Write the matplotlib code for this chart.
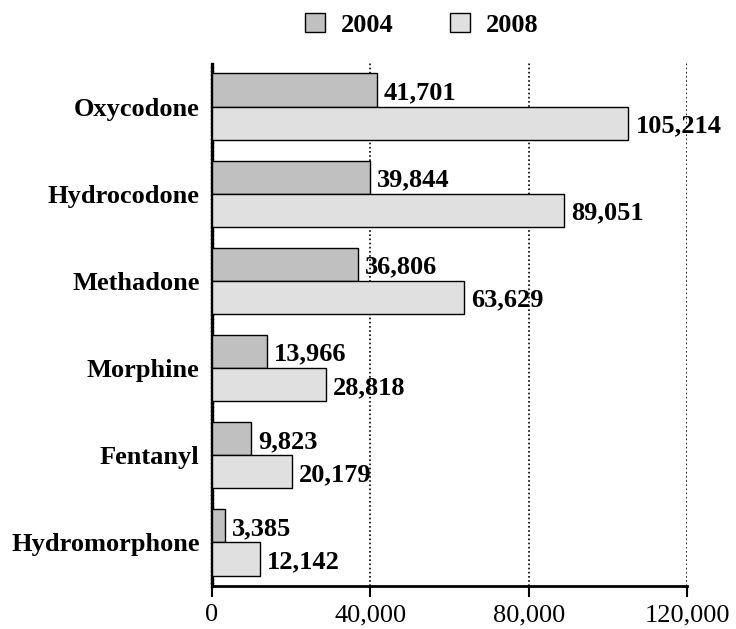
"""Horizontal grouped bar chart: opioid counts, 2004 vs 2008."""

import numpy as np
import matplotlib
matplotlib.use("Agg")
import matplotlib.pyplot as plt

DRUGS = ["Oxycodone", "Hydrocodone", "Methadone", "Morphine", "Fentanyl", "Hydromorphone"]
VALUES_2004 = [41701, 39844, 36806, 13966, 9823, 3385]
VALUES_2008 = [105214, 89051, 63629, 28818, 20179, 12142]
YEARS = ["2004", "2008"]
XTICKS = [0, 40000, 80000, 120000]

COLORS = ["#c0c0c0", "#e0e0e0"]
FS = 19

# =============================================================================
plt.rcParams["font.family"] = ["Liberation Serif", "DejaVu Serif"]

fig = plt.figure(figsize=(7.36, 6.29), dpi=100)
ax = fig.add_axes([212 / 736, 1 - 586 / 629, (687 - 212) / 736, (586 - 63) / 629])

y = np.arange(len(DRUGS))
h = 0.38
bars_a = ax.barh(y - h / 2, VALUES_2004, height=h, color=COLORS[0],
                 edgecolor="black", linewidth=1.0, label=YEARS[0], zorder=3)
bars_b = ax.barh(y + h / 2, VALUES_2008, height=h, color=COLORS[1],
                 edgecolor="black", linewidth=1.0, label=YEARS[1], zorder=3)

for bars, vals in ((bars_a, VALUES_2004), (bars_b, VALUES_2008)):
    for b, v in zip(bars, vals):
        ax.annotate(f"{v:,}", (v, b.get_y() + b.get_height() / 2),
                    xytext=(5, -2), textcoords="offset points",
                    va="center", ha="left", fontsize=FS, fontweight="bold",
                    zorder=5)

ax.set_ylim(len(DRUGS) - 0.5, -0.5)
ax.set_xlim(0, 120000)
ax.set_yticks(y)
ax.set_yticklabels(DRUGS, fontsize=FS, fontweight="bold")
ax.tick_params(axis="y", length=0, pad=9)
ax.set_xticks(XTICKS)
ax.set_xticklabels([f"{t:,}" for t in XTICKS], fontsize=FS)
ax.tick_params(axis="x", direction="out", length=8, width=1.5, pad=5)

for t in XTICKS[1:]:
    ax.axvline(t, color="black", linestyle=(0, (1, 1.5)), linewidth=1.2, zorder=1)

for s in ("top", "right"):
    ax.spines[s].set_visible(False)
ax.spines["bottom"].set_linewidth(2)
ax.spines["left"].set_linewidth(2.4)
ax.spines["left"].set_linestyle((0, (0.6, 0.6)))

fig.legend(handles=[bars_a, bars_b], labels=YEARS, loc="center",
           bbox_to_anchor=(422 / 736, 1 - 25 / 629), ncol=2, frameon=False,
           prop={"size": FS, "weight": "bold"}, handlelength=0.75,
           handleheight=0.75, columnspacing=2.15, handletextpad=0.6)

fig.savefig("out.png", dpi=100)
print("Finished.")
